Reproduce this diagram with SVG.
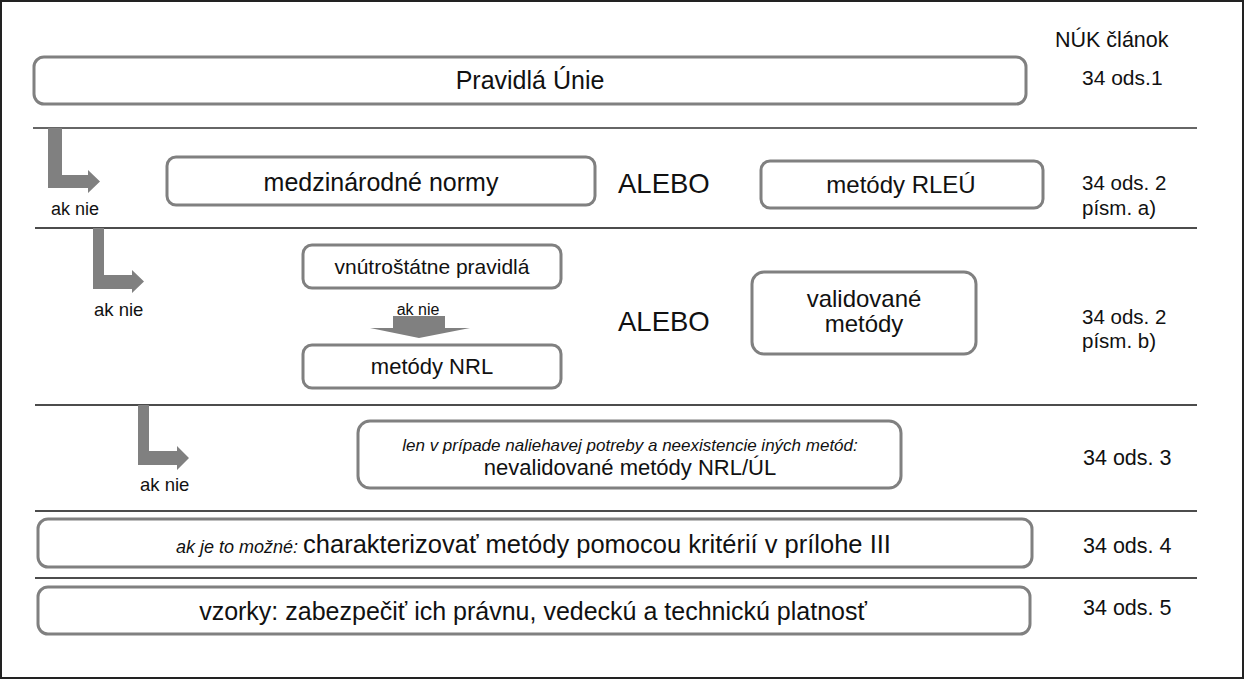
<svg xmlns="http://www.w3.org/2000/svg" width="1245" height="680" viewBox="0 0 1245 680">
<defs>
<style>
.box{fill:#fff;stroke:#808080;stroke-width:3}
.t{font-family:"Liberation Sans",Arial,sans-serif;fill:#111}
.c{text-anchor:middle}
.i{font-style:italic}
.sep{stroke:#111;stroke-width:1.5}
.arr{fill:#808080}
</style>
</defs>
<rect x="1" y="1" width="1242" height="677" fill="#fff" stroke="#222" stroke-width="2"/>

<g id="separators">
<line x1="33" y1="128" x2="1197" y2="128" stroke="#666" stroke-width="2"/>
<line class="sep" x1="35" y1="228" x2="1197" y2="228"/>
<line class="sep" x1="35" y1="405" x2="1197" y2="405"/>
<line class="sep" x1="35" y1="511" x2="1197" y2="511"/>
<line class="sep" x1="35" y1="578" x2="1197" y2="578"/>
</g>

<g id="header">
<text class="t" x="1055" y="47" font-size="21.5">NÚK článok</text>
</g>

<g id="node-pravidla-unie">
<rect class="box" x="34" y="57" width="992" height="47" rx="10"/>
<text class="t c" x="530" y="89" font-size="25">Pravidlá Únie</text>
</g>
<text class="t" x="1082" y="85" font-size="21">34 ods.1</text>

<g id="connectors">
<path class="arr" d="M48,128 H62 V175 H88 V170 L100,181.5 L88,193 V188 H48 Z"/>
<path class="arr" d="M93,228 H104 V275 H132 V270 L144,281.5 L132,293 V289 H93 Z"/>
<path class="arr" d="M138,405 H149 V451 H177 V446 L189,458 L177,470 V465 H138 Z"/>
<path class="arr" d="M393,316 H445 V328 H470 L419,338 L370,328 H393 Z"/>
</g>
<text class="t" x="51" y="215" font-size="18">ak nie</text>
<text class="t" x="94" y="316" font-size="18.5">ak nie</text>
<text class="t" x="140" y="491" font-size="18.5">ak nie</text>
<text class="t c" x="418" y="315" font-size="16">ak nie</text>

<g id="node-medzinarodne-normy">
<rect class="box" x="167" y="157" width="428" height="48" rx="9"/>
<text class="t c" x="381" y="191" font-size="25">medzinárodné normy</text>
</g>
<text class="t" x="618" y="193" font-size="27.5">ALEBO</text>
<g id="node-metody-rleu">
<rect class="box" x="761" y="161" width="282" height="47" rx="9"/>
<text class="t c" x="901" y="193" font-size="24">metódy RLEÚ</text>
</g>
<text class="t" x="1082" y="190" font-size="20.5">34 ods. 2</text>
<text class="t" x="1082" y="215" font-size="20.5">písm. a)</text>

<g id="node-vnutrostatne-pravidla">
<rect class="box" x="303" y="245" width="258" height="43" rx="9"/>
<text class="t c" x="432" y="274" font-size="21">vnútroštátne pravidlá</text>
</g>
<g id="node-metody-nrl">
<rect class="box" x="303" y="345" width="258" height="43" rx="9"/>
<text class="t c" x="432" y="374" font-size="22">metódy NRL</text>
</g>
<text class="t" x="618" y="331" font-size="27.5">ALEBO</text>
<g id="node-validovane-metody">
<rect class="box" x="752" y="272" width="224" height="82" rx="12"/>
<text class="t c" x="864" y="307" font-size="24">validované</text>
<text class="t c" x="864" y="332" font-size="24">metódy</text>
</g>
<text class="t" x="1082" y="324" font-size="20.5">34 ods. 2</text>
<text class="t" x="1082" y="348" font-size="20.5">písm. b)</text>

<g id="node-nevalidovane-metody">
<rect class="box" x="358" y="421" width="543" height="67" rx="12"/>
<text class="t c i" x="630" y="451" font-size="17">len v prípade naliehavej potreby a neexistencie iných metód:</text>
<text class="t c" x="630" y="475" font-size="22">nevalidované metódy NRL/ÚL</text>
</g>
<text class="t" x="1083" y="465" font-size="21.5">34 ods. 3</text>

<g id="node-charakterizovat">
<rect class="box" x="38" y="519" width="994" height="48" rx="10"/>
<text class="t" x="176" y="553"><tspan class="i" font-size="18">ak je to možné: </tspan><tspan font-size="25.5">charakterizovať metódy pomocou kritérií v prílohe III</tspan></text>
</g>
<text class="t" x="1083" y="553" font-size="21.5">34 ods. 4</text>

<g id="node-vzorky">
<rect class="box" x="38" y="587" width="992" height="47" rx="10"/>
<text class="t c" x="533" y="620" font-size="25">vzorky: zabezpečiť ich právnu, vedeckú a technickú platnosť</text>
</g>
<text class="t" x="1083" y="615" font-size="21.5">34 ods. 5</text>
</svg>
